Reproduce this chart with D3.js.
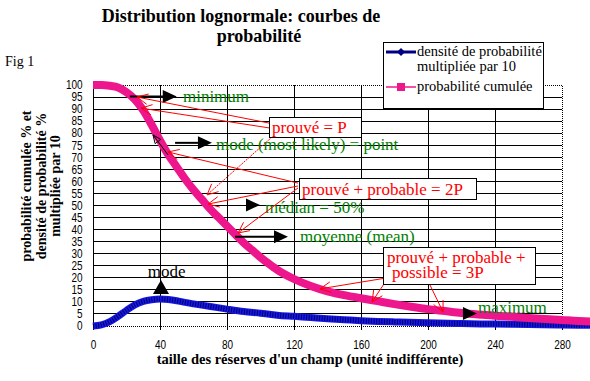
<!DOCTYPE html>
<html><head><meta charset="utf-8">
<script src="https://cdn.jsdelivr.net/npm/d3@7"></script>
<style>
body{margin:0;background:#fff;}
svg{display:block;}
</style></head>
<body>
<svg id="c" width="590" height="381"></svg>
<script>
// ---- data ----
const xTicks = [0,40,80,120,160,200,240,280];
const yTicks = [0,5,10,15,20,25,30,35,40,45,50,55,60,65,70,75,80,85,90,95,100];
const cumX = [0,5,10,15,20,25,30,35,40,45,50,55,60,65,70,75,80,85,90,95,100,105,110,120,130,140,150,160,170,180,190,200,210,220,230,240,250,260,270,280,290,297];
const cumY = [100,100,99.7,99,97,94,89.5,83.5,77,71,66,61,56.5,52.5,48.5,45,41.5,38,34.5,31.5,28.5,25.8,23.3,19.5,16.6,14.4,12.8,11.5,10.3,9.1,8,7,6.2,5.4,4.8,4.3,3.8,3.3,2.9,2.5,2.1,1.9];
const denX = [0,5,10,15,20,25,30,35,40,45,50,55,60,70,80,90,100,110,120,130,140,150,160,170,180,200,220,240,260,280,297];
const denY = [0,0.5,1.8,4,6.5,8.8,10.2,10.9,11.2,11,10.5,9.8,9.2,8.1,7,6,5.3,4.5,4,3.5,3,2.6,2.2,1.9,1.7,1.3,1,0.8,0.6,0.4,0.3];
const seriesNames = ["densité de probabilité","multipliée par 10","probabilité cumulée"];

const svg = d3.select("#c");
const x = d3.scaleLinear().domain([0,280]).range([93,562]);
const y = d3.scaleLinear().domain([0,100]).range([326,85]);
const SERIF = '"Liberation Serif"', SANS = '"Liberation Sans"';
function T(sel,size,bold,fam){
  return sel.style("font-family",fam||SERIF).style("font-size",size+"px").style("font-weight",bold?"bold":"normal");
}

// title
T(svg.append("text").attr("x",5).attr("y",66),14).text("Fig 1");
T(svg.append("text").attr("x",241).attr("y",22).attr("text-anchor","middle"),18,true).text("Distribution lognormale: courbes de");
T(svg.append("text").attr("x",259).attr("y",42).attr("text-anchor","middle"),18,true).text("probabilité");

// grid
const g = svg.append("g");
g.selectAll(".hg").data(yTicks.filter(d=>d>0&&d<100)).enter().append("line")
  .attr("x1",x(0)).attr("x2",x(280)).attr("y1",d=>y(d)).attr("y2",d=>y(d))
  .attr("stroke","#000").attr("stroke-width",1).attr("shape-rendering","crispEdges");
g.selectAll(".vg").data(xTicks.filter(d=>d>0&&d<280)).enter().append("line")
  .attr("x1",d=>x(d)).attr("x2",d=>x(d)).attr("y1",y(0)).attr("y2",y(100))
  .attr("stroke","#000").attr("stroke-width",1).attr("shape-rendering","crispEdges");
g.append("path").attr("d",`M${x(0)},${y(100)}H${x(280)}V${y(0)}H${x(0)}`).attr("fill","none")
  .attr("stroke","#000").attr("stroke-dasharray","1,1").attr("shape-rendering","crispEdges");
g.append("line").attr("x1",x(0)).attr("x2",x(0)).attr("y1",y(0)).attr("y2",y(100))
  .attr("stroke","#000").attr("shape-rendering","crispEdges");

// axes
const xa = svg.append("g").attr("transform",`translate(0,${y(0)})`)
  .call(d3.axisBottom(x).tickValues(xTicks).tickSize(4).tickPadding(10));
xa.select(".domain").remove();
xa.selectAll("line").attr("shape-rendering","crispEdges");
T(xa.selectAll("text"),12.5,false,SANS).attr("fill","#000").attr("transform","scale(0.8,1)");
const ya = svg.append("g").attr("transform",`translate(${x(0)},0)`)
  .call(d3.axisLeft(y).tickValues(yTicks).tickSize(0).tickPadding(13));
ya.select(".domain").remove();
T(ya.selectAll("text"),12.5,false,SANS).attr("fill","#000").attr("dy","0.3em").attr("transform","scale(0.8,1)");

// axis titles
T(svg.append("text").attr("x",310).attr("y",364).attr("text-anchor","middle"),14.5,true)
  .text("taille des réserves d'un champ (unité indifférente)");
const yt = T(svg.append("text").attr("transform","translate(0,186) rotate(-90)").attr("text-anchor","middle"),14,true);
["probabilité cumulée % et","densité de probabilité %","multipliée par 10"].forEach((t,i)=>{
  yt.append("tspan").attr("x",0).attr("y",31+i*14.5).text(t);
});

// series
const line = d3.line().x(d=>x(d[0])).y(d=>y(d[1])).curve(d3.curveMonotoneX);
const cum = cumX.map((v,i)=>[v,cumY[i]]);
const den = denX.map((v,i)=>[v,denY[i]]);
const pink = "#ee168c";
svg.append("path").attr("d",line(den)).attr("fill","none").attr("stroke","#1818e8").attr("stroke-width",7);
svg.append("path").attr("d",line(den)).attr("fill","none").attr("stroke","#000060").attr("stroke-width",5).attr("stroke-dasharray","1 1.6");
svg.append("path").attr("d",line(cum)).attr("fill","none").attr("stroke",pink).attr("stroke-width",8);

// ---- annotations ----
const ann = svg.append("g");
function tri(tx,ty,dir){
  const px=x(tx), py=y(ty);
  let pts;
  if(dir==="right") pts=[[px,py],[px-14,py-6.5],[px-14,py+6.5]];
  else pts=[[px,py],[px-8,py+14],[px+8,py+14]];
  ann.append("polygon").attr("points",pts.map(p=>p.join(",")).join(" ")).attr("fill","#000");
}
function bline(x1,y1,x2,y2){
  ann.append("line").attr("x1",x(x1)).attr("y1",y(y1)).attr("x2",x(x2)).attr("y2",y(y2)).attr("stroke","#000").attr("stroke-width",2);
}
bline(22,95.2,44,95.2); tri(50,95.2,"right");
bline(49,76,64,76); tri(71,76,"right");
tri(99.7,50.2,"right");
bline(84.8,37,110,37); tri(116.4,37,"right");
tri(229.2,5.2,"right");
tri(40.6,19.1,"up");

const green = "#008000";
function gtext(tx,ty,t,col){
  T(ann.append("text").attr("x",x(tx)).attr("y",y(ty)),17).attr("fill",col||green).text(t);
}
gtext(53.7,93,"minimum");
gtext(73.4,73,"mode (most likely) = point");
gtext(102.7,46.9,"médian = 50%");
gtext(123.6,34.9,"moyenne (mean)");
gtext(229.8,5.4,"maximum");
T(ann.append("text").attr("x",x(44)).attr("y",y(20.3)).attr("text-anchor","middle"),17).attr("fill","#000").text("mode");

(function(){
  const x1=x(44.8),y1=y(71),x2=x(35.8),y2=y(79.3);
  ann.append("line").attr("x1",x1).attr("y1",y1).attr("x2",x2).attr("y2",y2).attr("stroke","#000");
  const a=Math.atan2(y2-y1,x2-x1), L=9;
  const p1=[x2-L*Math.cos(a-0.4),y2-L*Math.sin(a-0.4)], p2=[x2-L*Math.cos(a+0.4),y2-L*Math.sin(a+0.4)];
  ann.append("polygon").attr("points",[[x2,y2],p1,p2].map(p=>p.join(",")).join(" ")).attr("fill","none").attr("stroke","#000");
})();

const red = "#ff0000";
function rline(x1,y1,x2,y2,dash){
  const X1=x(x1),Y1=y(y1),X2=x(x2),Y2=y(y2);
  ann.append("line").attr("x1",X1).attr("y1",Y1).attr("x2",X2).attr("y2",Y2).attr("stroke",red).attr("stroke-width",1)
    .attr("stroke-dasharray",dash?"2,1":null);
  const a=Math.atan2(Y2-Y1,X2-X1), L=12;
  [-0.45,0.45].forEach(s=>{
    ann.append("line").attr("x1",X2).attr("y1",Y2).attr("x2",X2-L*Math.cos(a+s)).attr("y2",Y2-L*Math.sin(a+s))
      .attr("stroke",red).attr("stroke-width",1);
  });
}
rline(105.1,84.2,26.3,95.0);
rline(105.1,82.2,28.7,90.4);
rline(106.9,78.4,68.1,54.4,true);
rline(122.4,59.3,44.8,72.2);
rline(122.4,58.1,68.7,50.6);
rline(122.4,57.3,86.6,38.6);
rline(174.9,19.9,135.5,15.4);
rline(174.9,18.7,166.6,10.0);
rline(201.2,17.0,209.0,5.8);

function rbox(x0,x1,yt,yb,lines){
  ann.append("rect").attr("x",x(x0)).attr("y",y(yt)).attr("width",x(x1)-x(x0)).attr("height",y(yb)-y(yt))
    .attr("fill","#fff").attr("stroke","#000").attr("stroke-width",1).attr("shape-rendering","crispEdges");
  lines.forEach(l=>{
    T(ann.append("text").attr("x",x(l[0])).attr("y",y(l[1])),17).attr("fill",red).text(l[2]);
  });
}
rbox(105.1,160,86.7,78.4,[[106.9,80.1,"prouvé = P"]]);
rbox(123,228.7,61.4,52.3,[[124.8,54.4,"prouvé + probable = 2P"]]);
rbox(173.7,263.9,32.4,17.4,[[175.5,26.1,"prouvé + probable +"],[178.5,19.9,"possible = 3P"]]);

// legend
const lg = svg.append("g");
lg.append("rect").attr("x",383).attr("y",42).attr("width",160).attr("height",66).attr("fill","#fff")
  .attr("stroke","#000").attr("shape-rendering","crispEdges");
lg.append("line").attr("x1",386).attr("x2",416).attr("y1",52).attr("y2",52).attr("stroke","#000080").attr("stroke-width",3);
lg.append("path").attr("d","M401,48L405,52L401,56L397,52Z").attr("fill","#000080");
T(lg.append("text").attr("x",417).attr("y",56),14.5).text(seriesNames[0]);
T(lg.append("text").attr("x",417).attr("y",71),14.5).text(seriesNames[1]);
lg.append("line").attr("x1",386).attr("x2",416).attr("y1",87).attr("y2",87).attr("stroke",pink).attr("stroke-width",1.5);
lg.append("rect").attr("x",397).attr("y",83).attr("width",8).attr("height",8).attr("fill",pink);
T(lg.append("text").attr("x",417).attr("y",91),14.5).text(seriesNames[2]);
</script>
</body></html>
